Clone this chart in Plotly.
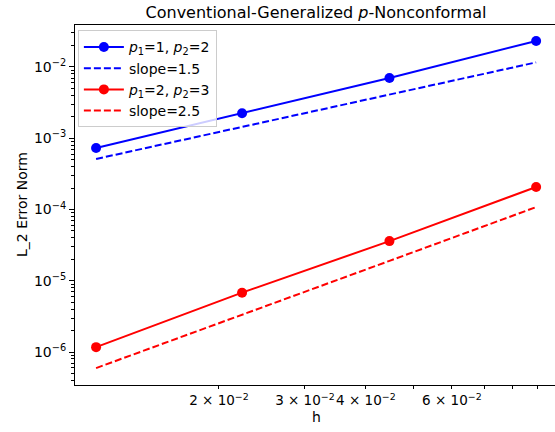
import plotly.graph_objects as go

# Data
h = [0.0112, 0.0223, 0.0447, 0.0893]
err_p12 = [7.3e-4, 2.24e-3, 7.0e-3, 2.32e-2]
slope15 = [5.12e-4, 1.45e-3, 4.1e-3, 1.16e-2]
err_p23 = [1.17e-6, 6.8e-6, 3.6e-5, 2.07e-4]
slope25 = [5.95e-7, 3.37e-6, 1.9e-5, 1.08e-4]

x_tickvals = [0.02, 0.03, 0.04, 0.05, 0.06, 0.07, 0.08, 0.09]
x_ticktext = ["2 × 10<sup>−2</sup>", "3 × 10<sup>−2</sup>", "4 × 10<sup>−2</sup>", "",
              "6 × 10<sup>−2</sup>", "", "", ""]
y_tickvals = [1e-6, 1e-5, 1e-4, 1e-3, 1e-2]
y_ticktext = ["10<sup>−6</sup>", "10<sup>−5</sup>", "10<sup>−4</sup>", "10<sup>−3</sup>", "10<sup>−2</sup>"]

y_minor = [m * 10.0 ** e for e in range(-7, -1) for m in range(2, 10)]

FONT = "DejaVu Sans"
W, H = 555, 432
L, R, T, B = 75, 0, 25, 47

fig = go.Figure()
fig.add_trace(go.Scatter(x=h, y=err_p12, mode="lines+markers",
                         line=dict(color="#0000ff", width=2), marker=dict(size=10, color="#0000ff"),
                         name="<i>p</i><sub>1</sub>=1, <i>p</i><sub>2</sub>=2"))
fig.add_trace(go.Scatter(x=h, y=slope15, mode="lines",
                         line=dict(color="#0000ff", width=2, dash="7px,3px"),
                         name="slope=1.5"))
fig.add_trace(go.Scatter(x=h, y=err_p23, mode="lines+markers",
                         line=dict(color="#ff0000", width=2), marker=dict(size=10, color="#ff0000"),
                         name="<i>p</i><sub>1</sub>=2, <i>p</i><sub>2</sub>=3"))
fig.add_trace(go.Scatter(x=h, y=slope25, mode="lines",
                         line=dict(color="#ff0000", width=2, dash="7px,3px"),
                         name="slope=2.5"))

fig.update_layout(
    width=W, height=H,
    margin=dict(l=L, r=R, t=T, b=B, autoexpand=False),
    paper_bgcolor="white", plot_bgcolor="white",
    font=dict(family=FONT, size=13, color="black"),
    title=dict(text="Conventional-Generalized <i>p</i>-Nonconformal",
               x=316 / W, xanchor="center",
               yref="container", y=1 - 12 / H, yanchor="middle",
               font=dict(size=16, family=FONT)),
    showlegend=True,
    legend=dict(x=0.006, y=0.985, xanchor="left", yanchor="top",
                bgcolor="rgba(255,255,255,0.8)", bordercolor="#cccccc", borderwidth=1,
                font=dict(size=14, family=FONT), tracegroupgap=0, itemwidth=40),
    annotations=[
        dict(text="h", xref="paper", yref="paper", x=(316 - L) / (W - L - R),
             y=-(417 - (H - B)) / (H - T - B), xanchor="center", yanchor="middle",
             showarrow=False, font=dict(size=14, family=FONT)),
        dict(text="L_2 Error Norm", xref="paper", yref="paper", x=-(L - 22) / (W - L - R),
             y=0.5, xanchor="center", yanchor="middle", textangle=-90,
             showarrow=False, font=dict(size=14, family=FONT)),
    ],
)

fig.update_xaxes(type="log", range=[-1.994, -1.0105], automargin=False,
                 showline=True, linecolor="black", linewidth=1, mirror=True,
                 showgrid=False, zeroline=False,
                 ticks="outside", ticklen=3, tickcolor="black", tickangle=0,
                 tickmode="array", tickvals=x_tickvals, ticktext=x_ticktext,
                 tickfont=dict(size=13.5))
fig.update_yaxes(type="log", range=[-6.463, -1.411], automargin=False,
                 showline=True, linecolor="black", linewidth=1, mirror=False,
                 showgrid=False, zeroline=False,
                 ticks="outside", ticklen=5, tickcolor="black",
                 tickmode="array", tickvals=y_tickvals, ticktext=y_ticktext,
                 tickfont=dict(size=14),
                 minor=dict(ticks="outside", ticklen=3, tickcolor="black", tickvals=y_minor, showgrid=False))

fig.write_html("out.html", config={"displayModeBar": False},
               post_script="document.body.style.margin='0';")
